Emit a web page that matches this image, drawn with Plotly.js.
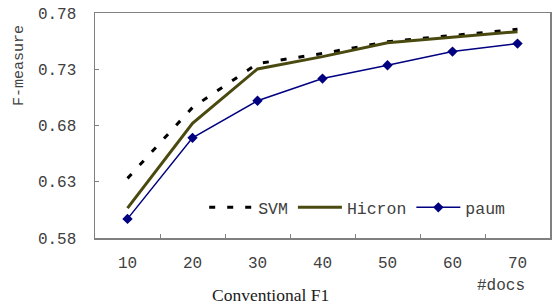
<!DOCTYPE html>
<html>
<head>
<meta charset="utf-8">
<script src="https://cdn.plot.ly/plotly-3.0.1.min.js"></script>
<style>html,body{margin:0;padding:0;background:#fff;}#chart{width:552px;height:305px;}</style>
</head>
<body>
<div id="chart"></div>
<script>
const docs = ["10", "20", "30", "40", "50", "60", "70"];
const svm = [0.633, 0.696, 0.735, 0.744, 0.7545, 0.760, 0.7655];
const hicron = [0.6066, 0.682, 0.7303, 0.7412, 0.7536, 0.7584, 0.7634];
const paum = [0.597, 0.669, 0.702, 0.7217, 0.7336, 0.7457, 0.7528];
const yTicks = [0.58, 0.63, 0.68, 0.73, 0.78];
const yTickText = ["0.58", "0.63", "0.68", "0.73", "0.78"];

const mono = "Liberation Mono, Courier New, monospace";
const traces = [
  {x: docs, y: svm, name: "SVM", type: "scatter", mode: "lines",
   line: {color: "#000000", width: 3, dash: "6px,12px"}},
  {x: docs, y: hicron, name: "Hicron", type: "scatter", mode: "lines",
   line: {color: "#4a4a10", width: 3}},
  {x: docs, y: paum, name: "paum", type: "scatter", mode: "lines+markers",
   line: {color: "#000080", width: 1.5},
   marker: {symbol: "diamond", size: 8, color: "#000080"}}
];
const layout = {
  width: 552, height: 305,
  margin: {l: 95, r: 2, t: 13, b: 67},
  paper_bgcolor: "#ffffff", plot_bgcolor: "#ffffff",
  showlegend: true,
  legend: {orientation: "h", x: 0.24, y: 0.135, xanchor: "left", yanchor: "middle",
    bgcolor: "rgba(0,0,0,0)", font: {family: mono, size: 16.5, color: "#404040"},
    itemwidth: 44, tracegroupgap: 0},
  xaxis: {type: "category", range: [-0.5, 6.5], tickson: "boundaries",
    ticks: "inside", ticklen: 4, tickcolor: "#808080",
    showline: true, linecolor: "#808080", linewidth: 1.5, mirror: true,
    showgrid: false, zeroline: false, ticklabelstandoff: 9,
    tickfont: {family: mono, size: 16, color: "#404040"}},
  yaxis: {range: [0.58, 0.78], tickvals: yTicks, ticktext: yTickText,
    ticks: "inside", ticklen: 4, tickcolor: "#808080",
    showline: true, linecolor: "#808080", linewidth: 1.5, mirror: true,
    showgrid: false, zeroline: false, ticklabelstandoff: 14,
    tickfont: {family: mono, size: 16, color: "#404040"}},
  annotations: [
    {text: "F-measure", xref: "paper", yref: "paper", x: -0.165, y: 0.769,
     textangle: -90, showarrow: false, xanchor: "center", yanchor: "middle",
     font: {family: mono, size: 15, color: "#404040"}},
    {text: "#docs", xref: "paper", yref: "paper", x: 0.892, y: -0.213,
     showarrow: false, xanchor: "center", yanchor: "middle",
     font: {family: mono, size: 16, color: "#404040"}},
    {text: "Conventional F1", xref: "paper", yref: "paper", x: 0.385, y: -0.252,
     showarrow: false, xanchor: "center", yanchor: "middle",
     font: {family: "Liberation Serif, Times New Roman, serif", size: 17.5, color: "#202020"}}
  ]
};
Plotly.newPlot("chart", traces, layout, {displayModeBar: false, staticPlot: true});
</script>
</body>
</html>
